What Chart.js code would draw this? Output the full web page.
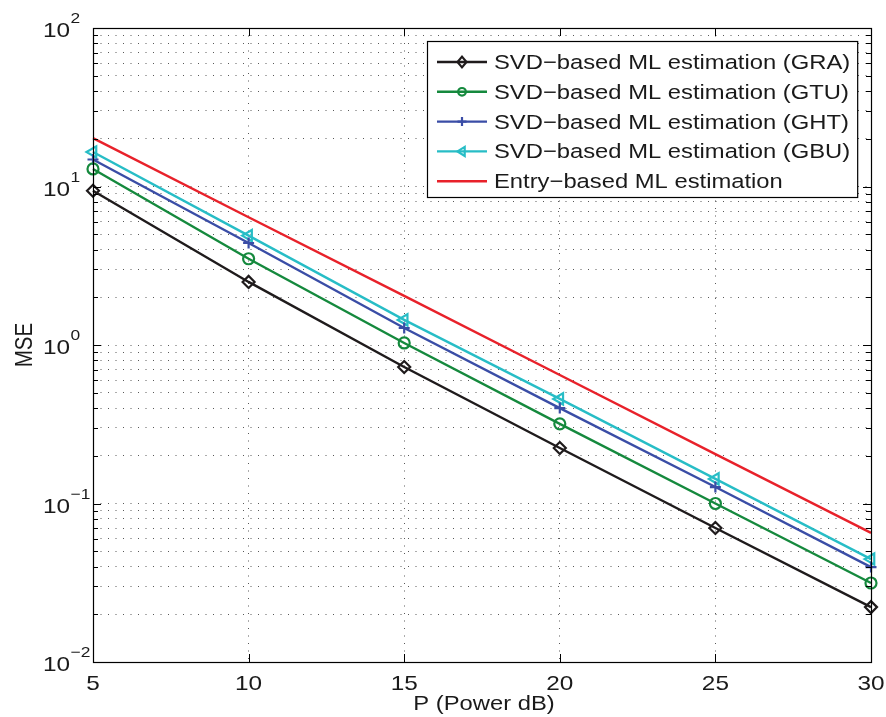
<!DOCTYPE html>
<html><head><meta charset="utf-8">
<script src="https://cdn.jsdelivr.net/npm/chart.js@4.4.1/dist/chart.umd.min.js"></script>
<style>html,body{margin:0;padding:0;background:#fff}canvas{display:block}</style>
</head><body>
<canvas id="c" width="886" height="717"></canvas>
<script>
// ---- data ----
const powerDb = [5, 10, 15, 20, 25, 30];
const xTickValues = [5, 10, 15, 20, 25, 30];
const yDecadeExponents = [-2, -1, 0, 1, 2];
const seriesNames = [
  'SVD\u2212based ML estimation (GRA)',
  'SVD\u2212based ML estimation (GTU)',
  'SVD\u2212based ML estimation (GHT)',
  'SVD\u2212based ML estimation (GBU)',
  'Entry\u2212based ML estimation'
];
const mseGRA   = [9.4, 2.5, 0.726, 0.224, 0.070, 0.0222];
const mseGTU   = [12.9, 3.5, 1.03, 0.318, 0.100, 0.0315];
const mseGHT   = [14.8, 4.4, 1.28, 0.400, 0.127, 0.0397];
const mseGBU   = [16.5, 4.9, 1.44, 0.457, 0.143, 0.0446];
const mseEntry = [20.2, 6.4, 2.04, 0.647, 0.205, 0.0652];
const xTitle = 'P (Power dB)';
const yTitle = 'MSE';

// ---- styles ----
const colors = ['#1f1b1c', '#15893d', '#3a4da6', '#27bdc6', '#e8212a'];
const markers = ['diamond', 'circle', 'plus', 'triLeft', 'none'];
const FONT = '"Liberation Sans", Arial, Helvetica, sans-serif';
const SX = 1.16; // horizontal text stretch
const TEXT = '#1a1a1a';

const allSeries = [mseGRA, mseGTU, mseGHT, mseGBU, mseEntry];
const cjsStyle = {
  diamond: {pointStyle: 'rectRot', radius: 6, rotation: 0},
  circle: {pointStyle: 'circle', radius: 5.5, rotation: 0},
  plus: {pointStyle: 'cross', radius: 5.5, rotation: 0},
  triLeft: {pointStyle: 'triangle', radius: 6.5, rotation: -90},
  none: {pointStyle: false, radius: 0, rotation: 0}
};

const datasets = allSeries.map((vals, i) => {
  const st = cjsStyle[markers[i]];
  return {
    label: seriesNames[i],
    data: powerDb.map((x, k) => ({x: x, y: vals[k]})),
    borderColor: colors[i],
    backgroundColor: 'rgba(0,0,0,0)',
    borderWidth: 2.4,
    pointStyle: st.pointStyle,
    pointRadius: st.radius,
    pointRotation: st.rotation,
    pointBorderColor: colors[i],
    pointBackgroundColor: 'rgba(0,0,0,0)',
    pointBorderWidth: 2.2,
    pointHoverRadius: st.radius,
    tension: 0,
    clip: false
  };
});

// minor/major grid values for the log axis
const yGridValues = [];
for (let e = yDecadeExponents[0]; e < yDecadeExponents[yDecadeExponents.length - 1]; e++) {
  for (let m = 1; m <= 9; m++) yGridValues.push(m * Math.pow(10, e));
}
yGridValues.push(Math.pow(10, yDecadeExponents[yDecadeExponents.length - 1]));

function sText(ctx, txt, x, y, size, align) {
  ctx.save();
  ctx.font = size + 'px ' + FONT;
  const w = ctx.measureText(txt).width * SX;
  let x0 = x;
  if (align === 'center') x0 = x - w / 2;
  else if (align === 'right') x0 = x - w;
  ctx.translate(x0, y);
  ctx.scale(SX, 1);
  ctx.textAlign = 'left';
  ctx.textBaseline = 'alphabetic';
  ctx.fillStyle = TEXT;
  ctx.fillText(txt, 0, 0);
  ctx.restore();
  return w;
}

function drawMarker(ctx, kind, x, y, s, color) {
  ctx.save();
  ctx.strokeStyle = color;
  ctx.lineWidth = 2.2;
  ctx.beginPath();
  if (kind === 'diamond') {
    ctx.moveTo(x, y - s * 1.2); ctx.lineTo(x + s, y); ctx.lineTo(x, y + s * 1.2); ctx.lineTo(x - s, y); ctx.closePath();
  } else if (kind === 'circle') {
    ctx.arc(x, y, s * 0.85, 0, Math.PI * 2);
  } else if (kind === 'plus') {
    ctx.moveTo(x - s, y); ctx.lineTo(x + s, y); ctx.moveTo(x, y - s); ctx.lineTo(x, y + s);
  } else if (kind === 'triLeft') {
    ctx.moveTo(x - s, y); ctx.lineTo(x + s * 0.6, y - s); ctx.lineTo(x + s * 0.6, y + s); ctx.closePath();
  }
  if (kind !== 'none') ctx.stroke();
  ctx.restore();
}

const decorPlugin = {
  id: 'decor',
  afterDraw(chart) {
    const ctx = chart.ctx;
    const a = chart.chartArea;
    const xs = chart.scales.x, ys = chart.scales.y;
    ctx.save();
    // box
    ctx.strokeStyle = '#000';
    ctx.lineWidth = 1.2;
    ctx.strokeRect(Math.round(a.left) + 0.5, Math.round(a.top) + 0.5, Math.round(a.right - a.left), Math.round(a.bottom - a.top));
    ctx.lineWidth = 1;
    // y ticks (inside, left and right)
    yGridValues.forEach(v => {
      const py = Math.round(ys.getPixelForValue(v)) + 0.5;
      const major = Math.abs(Math.log10(v) - Math.round(Math.log10(v))) < 1e-9;
      const len = major ? 8 : 5;
      ctx.beginPath();
      ctx.moveTo(a.left, py); ctx.lineTo(a.left + len, py);
      ctx.moveTo(a.right, py); ctx.lineTo(a.right - len, py);
      ctx.stroke();
    });
    // x ticks (inside, bottom and top)
    xTickValues.forEach(v => {
      const px = Math.round(xs.getPixelForValue(v)) + 0.5;
      ctx.beginPath();
      ctx.moveTo(px, a.bottom); ctx.lineTo(px, a.bottom - 8);
      ctx.moveTo(px, a.top); ctx.lineTo(px, a.top + 8);
      ctx.stroke();
    });
    // y tick labels 10^e
    yDecadeExponents.forEach(e => {
      const py = ys.getPixelForValue(Math.pow(10, e));
      const w = sText(ctx, '10', 43, py + 9, 21, 'left');
      const ex = e < 0 ? '\u2212' + Math.abs(e) : String(e);
      sText(ctx, ex, 43 + w + 0.5, py - 5, 15, 'left');
    });
    // x tick labels
    xTickValues.forEach(v => {
      sText(ctx, String(v), xs.getPixelForValue(v), a.bottom + 28, 21, 'center');
    });
    // axis titles
    sText(ctx, xTitle, (a.left + a.right) / 2 + 2, 710, 20.5, 'center');
    ctx.save();
    ctx.translate(32, (a.top + a.bottom) / 2);
    ctx.rotate(-Math.PI / 2);
    ctx.scale(1, SX);
    ctx.font = '20.5px ' + FONT;
    ctx.fillStyle = TEXT;
    ctx.textAlign = 'center';
    ctx.textBaseline = 'alphabetic';
    ctx.fillText(yTitle, 0, 0);
    ctx.restore();

    // legend
    const lgX = 427, lgY = 41, row0 = 62, step = 29.8, lx0 = 437, lx1 = 487, tx = 494;
    ctx.font = '20.5px ' + FONT;
    let maxW = 0;
    seriesNames.forEach(n => { maxW = Math.max(maxW, ctx.measureText(n).width * SX); });
    const lgW = tx + maxW + 7 - lgX;
    const lgH = 197 - lgY;
    ctx.fillStyle = '#fff';
    ctx.fillRect(lgX, lgY, lgW, lgH);
    ctx.strokeStyle = '#000';
    ctx.lineWidth = 1.2;
    ctx.strokeRect(lgX + 0.5, lgY + 0.5, lgW, lgH);
    seriesNames.forEach((n, i) => {
      const ry = row0 + i * step;
      ctx.strokeStyle = colors[i];
      ctx.lineWidth = 2.4;
      ctx.beginPath(); ctx.moveTo(lx0, ry); ctx.lineTo(lx1, ry); ctx.stroke();
      drawMarker(ctx, markers[i], (lx0 + lx1) / 2, ry, 4.5, colors[i]);
      sText(ctx, n, tx, ry + 7, 20.5, 'left');
    });
    ctx.restore();
  }
};

const gridOpts = {
  color: 'rgba(0,0,0,0.65)',
  lineWidth: 1,
  drawTicks: false
};

new Chart(document.getElementById('c'), {
  type: 'line',
  data: {datasets: datasets},
  options: {
    responsive: false,
    animation: false,
    devicePixelRatio: 1,
    events: [],
    layout: {padding: {left: 0, right: 15, top: 28, bottom: 0}},
    plugins: {legend: {display: false}, tooltip: {enabled: false}},
    scales: {
      x: {
        type: 'linear', min: 5, max: 30,
        border: {display: false, dash: [1, 6.5]},
        grid: Object.assign({}, gridOpts),
        ticks: {display: false},
        afterBuildTicks: s => { s.ticks = xTickValues.map(v => ({value: v})); },
        afterFit: s => { s.height = 55; }
      },
      y: {
        type: 'logarithmic', min: 0.01, max: 100,
        border: {display: false, dash: [1, 6.5]},
        grid: Object.assign({}, gridOpts),
        ticks: {display: false},
        afterBuildTicks: s => { s.ticks = yGridValues.map(v => ({value: v})); },
        afterFit: s => { s.width = 93; }
      }
    }
  },
  plugins: [decorPlugin]
});
</script>
</body></html>
